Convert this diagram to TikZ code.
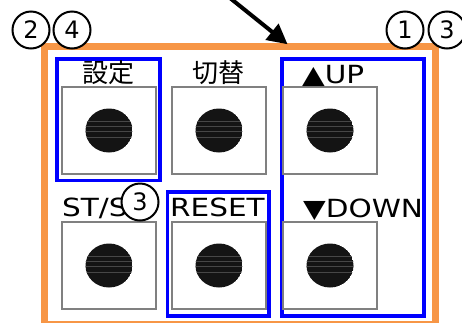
\documentclass[tikz,border=0pt]{standalone}
\usepackage{fontspec}
\setmainfont{DejaVu Sans}
\newfontfamily\jpfont{Noto Sans CJK JP}
\usetikzlibrary{arrows.meta}
\definecolor{frameorange}{HTML}{F79646}
\definecolor{selblue}{HTML}{0000FF}
\tikzset{
  frame/.style={draw=frameorange, line width=7pt},
  selbox/.style={draw=selblue, line width=3.5pt},
  keybox/.style={draw=black!50, line width=1.5pt, fill=white},
  jplabel/.style={inner sep=0pt, font=\jpfont\fontsize{26}{26}\selectfont},
  latlabel/.style={inner sep=0pt, anchor=base west, font=\fontsize{25}{25}\selectfont},
  num/.style={circle, draw=black, line width=2pt, fill=white, minimum size=37pt, inner sep=0pt, font=\fontsize{24}{24}\selectfont},
  pointer/.style={draw=black, line width=4pt, -{Triangle[length=20pt,width=20pt]}, shorten >=-2pt}
}
\newcommand{\wideText}[1]{\scalebox{1.18}[1]{#1}}
\newcommand{\keybutton}[3]{%
  \node[keybox, minimum width=94pt, minimum height=87pt, inner sep=0pt] (#1) at (#2,#3) {};
  \begin{scope}
    \clip (#2,#3) ellipse [x radius=23.5pt, y radius=22pt];
    \fill[black!92] (#2,#3) ellipse [x radius=23.5pt, y radius=22pt];
    \foreach \dy in {-9,-4,1,7} {
      \draw[black!72, line width=0.5pt] (#2-30,#3+\dy) -- (#2+30,#3+\dy);
    }
  \end{scope}
}
\begin{document}
\begin{tikzpicture}[x=1pt,y=-1pt]
  \fill[white] (0,0) rectangle (462,322);
  \useasboundingbox (0,0) rectangle (462,322);
  % orange frame
  \draw[frame] (44,46.5) rectangle (435,324);
  % blue selection boxes
  \draw[selbox] (57,59) rectangle (160,180.5);
  \draw[selbox] (167.5,192) rectangle (269,316);
  \draw[selbox] (282,59) rectangle (424,316);
  % keys
  \keybutton{k1}{109}{130.5}
  \keybutton{k2}{219}{130.5}
  \keybutton{k3}{330}{130.5}
  \keybutton{k4}{109}{265.5}
  \keybutton{k5}{219}{265.5}
  \keybutton{k6}{330}{265.5}
  % labels
  \node[jplabel] (t1) at (108.5,72.5) {設定};
  \node[jplabel] (t2) at (218,72.5) {切替};
  \node[latlabel] (t3) at (302,83) {\wideText{▲UP}};
  \node[latlabel] (t4) at (62,216) {\wideText{ST/S}};
  \node[latlabel] (t5) at (170,216) {\wideText{RESET}};
  \node[latlabel] (t6) at (303,217) {\wideText{▼DOWN}};
  % circled numbers
  \node[num] (n2) at (31,30) {2};
  \node[num] (n4) at (72,30) {4};
  \node[num] (n1) at (405,30) {1};
  \node[num] (n3a) at (447,30) {3};
  \node[num] (n3b) at (140,202) {3};
  % arrow
  \coordinate (as) at (230,-2);
  \coordinate (at) at (286,43);
  \draw[pointer] (as) -- (at);
\end{tikzpicture}
\end{document}
